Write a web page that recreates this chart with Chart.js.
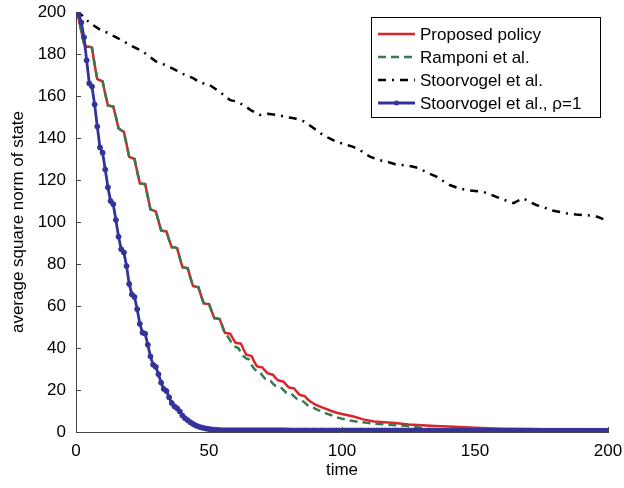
<!DOCTYPE html>
<html>
<head>
<meta charset="utf-8">
<script src="https://cdn.jsdelivr.net/npm/chart.js@4.4.1/dist/chart.umd.min.js"></script>
<style>
  html, body { margin: 0; padding: 0; background: #fff; }
  #wrap { width: 624px; height: 488px; }
</style>
</head>
<body>
<div id="wrap"><canvas id="stateChart" width="624" height="488"></canvas></div>
<script>
// time steps for the rho=1 run (one point per step)
const blueTime = Array.from({ length: 201 }, (_, i) => i);
const blueValues = [
    200, 199, 195, 188, 177, 166, 164.5, 156, 145.5, 135.5,
    133, 125, 116.5, 110, 108.5, 101, 93, 87, 85.5, 79,
    70.5, 65.5, 64.3, 58.5, 51.5, 47.3, 46.8, 41.5, 36, 32,
    31, 27.5, 23.5, 20.5, 19.5, 16.5, 13.8, 12.2, 11.3, 9.8,
    7.8, 6.5, 5.6, 4.6, 3.8, 3.1, 2.6, 2.2, 1.9, 1.6,
    1.4, 1.2, 1.1, 1.0, 0.9, 0.8, 0.8, 0.8, 0.8, 0.8,
    0.8, 0.8, 0.8, 0.8, 0.8, 0.8, 0.8, 0.8, 0.8, 0.8,
    0.8, 0.8, 0.8, 0.8, 0.8, 0.8, 0.8, 0.8, 0.8, 0.8,
    0.7, 0.7, 0.7, 0.7, 0.7, 0.7, 0.7, 0.7, 0.7, 0.7,
    0.7, 0.7, 0.7, 0.7, 0.7, 0.7, 0.7, 0.7, 0.7, 0.7,
    0.7, 0.7, 0.7, 0.7, 0.7, 0.7, 0.7, 0.7, 0.7, 0.7,
    0.7, 0.7, 0.7, 0.7, 0.7, 0.7, 0.7, 0.7, 0.7, 0.7,
    0.7, 0.7, 0.7, 0.7, 0.7, 0.7, 0.7, 0.7, 0.7, 0.7,
    0.6, 0.6, 0.6, 0.6, 0.6, 0.6, 0.6, 0.6, 0.6, 0.6,
    0.6, 0.6, 0.6, 0.6, 0.6, 0.6, 0.6, 0.6, 0.6, 0.6,
    0.6, 0.6, 0.6, 0.6, 0.6, 0.6, 0.6, 0.6, 0.6, 0.6,
    0.6, 0.6, 0.6, 0.6, 0.6, 0.6, 0.6, 0.6, 0.6, 0.6,
    0.6, 0.6, 0.6, 0.6, 0.6, 0.6, 0.6, 0.6, 0.6, 0.6,
    0.6, 0.6, 0.6, 0.6, 0.6, 0.6, 0.6, 0.6, 0.6, 0.6,
    0.6, 0.6, 0.6, 0.6, 0.6, 0.6, 0.6, 0.6, 0.6, 0.6,
    0.6
];

// proposed policy
const redTime = [
    0, 1, 2, 3, 4, 5, 6, 7, 8, 9, 10, 11, 12, 13, 14, 15, 16, 17, 18, 19,
    20, 21, 22, 23, 24, 25, 26, 27, 28, 29, 30, 31, 32, 33, 34, 35, 36, 37, 38, 39,
    40, 41, 42, 43, 44, 45, 46, 47, 48, 49, 50, 51, 52, 53, 54, 55, 56, 57, 58, 59,
    60, 61, 62, 63, 64, 65, 66, 67, 68, 69, 70, 71, 72, 73, 74, 75, 76, 77, 78, 79,
    80, 81, 82, 83, 84, 85, 86, 87, 88, 90, 92, 94, 96, 98, 100, 104, 108, 112, 116, 120,
    125, 130, 135, 140, 150, 160, 170, 180, 190, 200
];
const redValues = [
    200, 197, 191, 185, 183.5, 183.5, 183, 175, 168, 167.5, 167, 161, 155.5, 155.2, 155, 150, 144.5, 143.7, 143, 137,
    131, 130.5, 130, 124, 118.5, 118.2, 118, 112, 106, 105.5, 105, 100.5, 96, 95.7, 95.5, 91.5, 88, 88, 87.5, 83,
    78.5, 78.2, 78, 73.5, 69.5, 69.2, 69, 65, 61.3, 61.1, 61, 57.5, 54.2, 54, 53.8, 50.5, 47.2, 47, 46.7, 44.5,
    42.5, 42.3, 42.1, 39.3, 36.8, 36.5, 36.2, 33.5, 31.3, 31, 30.8, 29.3, 28, 27.6, 27.3, 25.8, 24.6, 24.3, 24, 22.6,
    21.3, 21, 20.8, 19.2, 17.8, 17.4, 17.1, 15.7, 14.6, 13, 12, 11, 10, 9.2, 8.6, 7.5, 6, 5, 4.6, 4.3,
    3.6, 3.2, 2.9, 2.6, 2, 1.6, 1.4, 1.2, 1.1, 1
];

// Ramponi et al.
const greenTime = [
    0, 1, 2, 3, 4, 5, 6, 7, 8, 9, 10, 11, 12, 13, 14, 15, 16, 17, 18, 19,
    20, 21, 22, 23, 24, 25, 26, 27, 28, 29, 30, 31, 32, 33, 34, 35, 36, 37, 38, 39,
    40, 41, 42, 43, 44, 45, 46, 47, 48, 49, 50, 51, 52, 53, 54, 55, 56, 57, 58, 59,
    60, 61, 62, 63, 64, 65, 66, 67, 68, 69, 70, 71, 72, 73, 74, 75, 76, 77, 78, 79,
    80, 81, 82, 83, 84, 85, 86, 87, 88, 89, 90, 92, 94, 96, 98, 100, 103, 106, 110, 114,
    119, 124, 128, 132, 136, 140, 150, 170, 200
];
const greenValues = [
    200, 197, 191, 185, 183.5, 183.5, 183, 175, 168, 167.5, 167, 161, 155.5, 155.2, 155, 150, 144.5, 143.7, 143, 137,
    131, 130.5, 130, 124, 118.5, 118.2, 118, 112, 106, 105.5, 105, 100.5, 96, 95.7, 95.5, 91.5, 88, 88, 87.5, 83,
    78.5, 78.2, 78, 73.5, 69.5, 69.2, 69, 65, 61.3, 61.1, 61, 57.5, 54.2, 54, 53.8, 50.5, 46.5, 45.5, 43.5, 41.5,
    40.5, 40, 38, 36, 35, 34.5, 32, 30, 29, 28.7, 27, 25.5, 25, 24.7, 23, 22, 21.7, 21.3, 20, 18.8,
    18.4, 18.2, 17, 15.8, 15.2, 14.9, 14, 12.8, 12.2, 12, 11, 10, 8.9, 8, 7, 6.3, 5.5, 4.9, 4.3, 3.8,
    3.3, 3, 2.3, 1.6, 1.2, 1.1, 1, 0.9, 0.8
];

// Stoorvogel et al.
const blackTime = [
    0, 2, 5, 9, 12, 15, 18, 20, 25, 30, 33, 36, 41, 44, 47, 50, 54, 58, 60, 63,
    66, 69, 72, 75.5, 79, 82, 86, 89, 92, 95, 98, 101, 104, 107, 110.5, 114, 117, 120, 122.5, 126,
    129, 132, 135.5, 138, 140.5, 144, 147, 150, 153, 156, 158, 161, 164.5, 166, 168, 170, 173, 176, 178, 181,
    184.5, 188, 191, 194, 196, 198, 200
];
const blackValues = [
    200, 198.7, 195, 191.6, 190, 188, 186, 184.4, 181.3, 176.5, 175, 173.3, 170, 168.5, 166.2, 165.5, 162, 158, 157.5, 155.7,
    153, 151, 151.5, 151, 150, 149.4, 147.8, 145, 142.2, 140, 138.2, 137, 135.9, 134, 131.1, 129.5, 128.7, 127.5, 127.1, 126.5,
    125.6, 123.5, 121.6, 119.5, 117.6, 116, 115.2, 114.8, 114.4, 113, 112, 110.5, 109, 110, 111.3, 110, 108.1, 107, 105.7, 105,
    104.1, 103.6, 103.3, 103, 102.5, 101.5, 100.5
];

const seriesNames = ['Proposed policy', 'Ramponi et al.', 'Stoorvogel et al.', 'Stoorvogel et al., \u03c1=1'];
const xTicks = [0, 50, 100, 150, 200];
const yTicks = [0, 20, 40, 60, 80, 100, 120, 140, 160, 180, 200];

const toPoints = (xs, ys) => xs.map((x, i) => ({ x: x, y: ys[i] }));
const fontFamily = "'Liberation Sans', Arial, sans-serif";

// legend box inside the plot, top right
const insideLegend = {
    id: 'insideLegend',
    afterDraw(chart) {
        const ctx = chart.ctx;
        const area = chart.chartArea;
        const boxRight = area.right - 8;
        const boxLeft = boxRight - 229;
        const boxTop = area.top + 5;
        const boxHeight = 100;
        ctx.save();
        ctx.fillStyle = '#fff';
        ctx.fillRect(boxLeft, boxTop, boxRight - boxLeft, boxHeight);
        ctx.strokeStyle = '#000';
        ctx.lineWidth = 1;
        ctx.strokeRect(boxLeft + 0.5, boxTop + 0.5, boxRight - boxLeft, boxHeight);
        ctx.font = '17px ' + fontFamily;
        ctx.textBaseline = 'middle';
        chart.data.datasets.forEach((ds, i) => {
            const y = boxTop + 17 + i * 23;
            ctx.strokeStyle = ds.borderColor;
            ctx.lineWidth = ds.borderWidth;
            ctx.setLineDash(ds.borderDash || []);
            ctx.beginPath();
            ctx.moveTo(boxLeft + 7, y);
            ctx.lineTo(boxLeft + 44, y);
            ctx.stroke();
            ctx.setLineDash([]);
            if (ds.pointRadius > 0) {
                ctx.fillStyle = ds.borderColor;
                ctx.beginPath();
                ctx.arc(boxLeft + 25.5, y, ds.pointRadius, 0, Math.PI * 2);
                ctx.fill();
            }
            ctx.fillStyle = '#000';
            ctx.fillText(ds.label, boxLeft + 49, y + 1);
        });
        ctx.restore();
    }
};

// MATLAB style ticks pointing into the plot
const inwardTicks = {
    id: 'inwardTicks',
    afterDatasetsDraw(chart) {
        const ctx = chart.ctx;
        const area = chart.chartArea;
        const xs = chart.scales.x;
        const ys = chart.scales.y;
        ctx.save();
        ctx.strokeStyle = '#444';
        ctx.lineWidth = 1;
        ctx.beginPath();
        yTicks.forEach(v => {
            const py = Math.round(ys.getPixelForValue(v)) + 0.5;
            ctx.moveTo(area.left, py);
            ctx.lineTo(area.left + 5, py);
        });
        xTicks.forEach(v => {
            const px = Math.round(xs.getPixelForValue(v)) + 0.5;
            ctx.moveTo(px, area.bottom);
            ctx.lineTo(px, area.bottom - 5);
        });
        ctx.stroke();
        ctx.restore();
    }
};

const ctx = document.getElementById('stateChart').getContext('2d');
const stateChart = new Chart(ctx, {
    type: 'line',
    data: {
        datasets: [{
            label: seriesNames[0],
            data: toPoints(redTime, redValues),
            borderColor: '#d9252c',
            borderWidth: 2.5,
            pointRadius: 0,
            order: 4
        }, {
            label: seriesNames[1],
            data: toPoints(greenTime, greenValues),
            borderColor: '#3a7a4e',
            borderWidth: 2.5,
            borderDash: [8, 5],
            pointRadius: 0,
            order: 3
        }, {
            label: seriesNames[2],
            data: toPoints(blackTime, blackValues),
            borderColor: '#000000',
            borderWidth: 2.5,
            borderDash: [8, 6, 2, 6],
            pointRadius: 0,
            order: 2
        }, {
            label: seriesNames[3],
            data: toPoints(blueTime, blueValues),
            borderColor: '#333399',
            backgroundColor: '#333399',
            borderWidth: 2.8,
            pointRadius: 2.5,
            pointBorderWidth: 1,
            pointStyle: 'circle',
            order: 1
        }]
    },
    options: {
        responsive: false,
        animation: false,
        events: [],
        layout: {
            padding: { top: 12, right: 16, bottom: 0, left: 0 }
        },
        elements: {
            line: { tension: 0, fill: false }
        },
        scales: {
            x: {
                type: 'linear',
                min: 0,
                max: 200,
                afterFit: (axis) => {
                    axis.height = 56;
                    axis.paddingRight = 0;
                    axis.paddingLeft = 0;
                },
                afterBuildTicks: (axis) => { axis.ticks = xTicks.map(v => ({ value: v })); },
                grid: { drawOnChartArea: false, drawTicks: false },
                border: { display: true, color: '#444', width: 1 },
                ticks: {
                    color: '#000',
                    padding: 9,
                    maxRotation: 0,
                    font: { family: fontFamily, size: 17 }
                },
                title: {
                    display: true,
                    text: 'time',
                    color: '#000',
                    padding: { top: 0, bottom: 7 },
                    font: { family: fontFamily, size: 17 }
                }
            },
            y: {
                type: 'linear',
                min: 0,
                max: 200,
                afterFit: (axis) => {
                    axis.width = 76;
                    axis.paddingTop = 0;
                    axis.paddingBottom = 0;
                },
                afterBuildTicks: (axis) => { axis.ticks = yTicks.map(v => ({ value: v })); },
                grid: { drawOnChartArea: false, drawTicks: false },
                border: { display: true, color: '#444', width: 1 },
                ticks: {
                    color: '#000',
                    padding: 10,
                    font: { family: fontFamily, size: 17 }
                },
                title: {
                    display: true,
                    text: 'average square norm of state',
                    color: '#000',
                    padding: { top: 8, bottom: 0 },
                    font: { family: fontFamily, size: 17 }
                }
            }
        },
        plugins: {
            legend: { display: false },
            tooltip: { enabled: false }
        }
    },
    plugins: [inwardTicks, insideLegend]
});
</script>
</body>
</html>
